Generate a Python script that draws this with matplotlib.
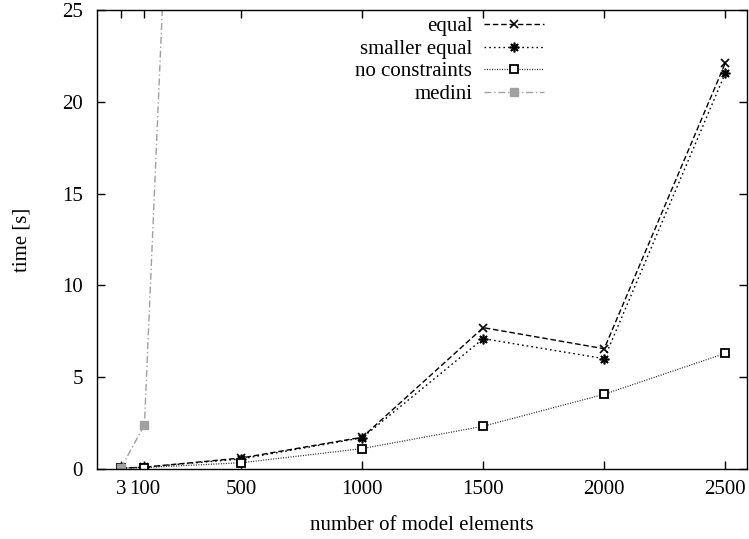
import matplotlib.pyplot as plt
import numpy as np

plt.rcParams['font.family'] = ['Liberation Serif', 'DejaVu Serif']
plt.rcParams['font.size'] = 15

# x values (number of model elements)
sizes = [3, 100, 500, 1000, 1500, 2000, 2500]
medini_sizes = [3, 100, 500]

# time [s]
equal = [0.05, 0.1, 0.6, 1.73, 7.70, 6.55, 22.10]
smaller_equal = [0.05, 0.1, 0.55, 1.70, 7.10, 6.01, 21.55]
no_constraints = [0.05, 0.08, 0.34, 1.11, 2.33, 4.07, 6.30]
medini = [0.05, 2.40, 125.0]

xticks = [3, 100, 500, 1000, 1500, 2000, 2500]
yticks = [0, 5, 10, 15, 20, 25]

fig = plt.figure(figsize=(7.49, 5.39), dpi=100)
ax = fig.add_axes([97/749, 70/539, 650/749, 459/539])

ax.plot(sizes, equal, color='black', lw=1.0, dashes=(4, 2),
        marker='x', ms=6, mew=1.2, label='equal')
ax.plot(sizes, smaller_equal, color='black', lw=1.0, dashes=(1.2, 2.2),
        marker=(8, 2, 0), ms=7, mew=1.2, label='smaller equal')
ax.plot(sizes, no_constraints, color='#222222', lw=0.9, dashes=(0.8, 1.2),
        marker='s', ms=6, mfc='white', mec='black', mew=1.3, label='no constraints')
ax.plot(medini_sizes, medini, color='#a0a0a0', lw=1.0, dashes=(5, 2, 1, 2),
        marker='s', ms=6, mfc='#a0a0a0', mec='#a0a0a0', label='medini')

ax.set_xlim(-96, 2590)
ax.set_ylim(0, 25)
ax.set_xticks(xticks)
ax.set_yticks(yticks)
ax.tick_params(direction='in', length=6, width=1, top=True, right=True)
ax.tick_params(axis='x', pad=8)
ax.tick_params(axis='y', pad=10)
for s in ax.spines.values():
    s.set_linewidth(1.0)

ax.set_xlabel('number of model elements', labelpad=12)
ax.set_ylabel('time [s]', labelpad=22)

ax.legend(loc='upper right', frameon=False, markerfirst=False, handlelength=2.9,
          handletextpad=0.55, labelspacing=0.14, borderpad=0, borderaxespad=0,
          bbox_to_anchor=((544 - 97) / 650, 0.985))

fig.savefig('out.png', dpi=100)
